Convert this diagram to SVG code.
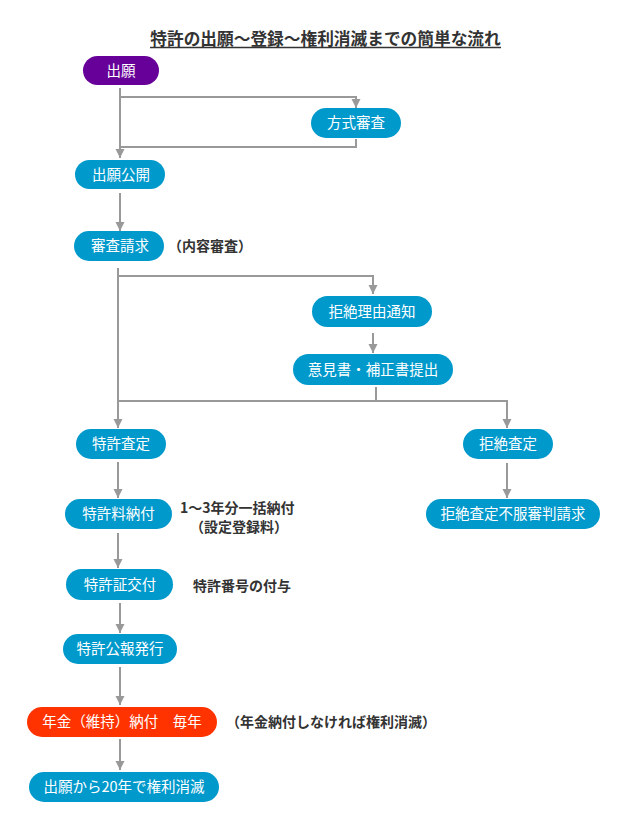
<svg xmlns="http://www.w3.org/2000/svg" width="640" height="830" viewBox="0 0 640 830">
<defs>
<marker id="ah" viewBox="0 0 10 10" refX="10" refY="5" markerWidth="9" markerHeight="10" markerUnits="userSpaceOnUse" orient="auto">
<path d="M0,0 L10,5 L0,10 Z" fill="#999"/>
</marker>
<style>
.n{fill:#0099CC}
.t{font-family:"Noto Sans CJK JP","Noto Sans",sans-serif;font-size:14.5px;fill:#fff;text-anchor:middle}
.l{font-family:"Noto Sans CJK JP","Noto Sans",sans-serif;font-size:14px;font-weight:bold;fill:#333}
.c{fill:none;stroke:#999;stroke-width:2}
.a{marker-end:url(#ah)}
</style>
</defs>
<rect width="640" height="830" fill="#fff"/>
<g id="title">
<text x="325.5" y="45" font-family="'Noto Sans CJK JP','Noto Sans',sans-serif" font-size="16.7" font-weight="bold" fill="#333" text-anchor="middle">特許の出願～登録～権利消滅までの簡単な流れ</text>
<line x1="150" y1="47.5" x2="501" y2="47.5" stroke="#333" stroke-width="1.3"/>
</g>
<g id="connectors">
<path class="c a" d="M120,88 V158"/>
<path class="c a" d="M120,97 H356 V108"/>
<path class="c" d="M356,139 V147 H120"/>
<path class="c a" d="M120,193 V231"/>
<path class="c a" d="M118,268 V428"/>
<path class="c a" d="M118,276 H373 V294"/>
<path class="c a" d="M373,333 V353"/>
<path class="c" d="M376,387 V401"/>
<path class="c a" d="M118,401 H507 V428"/>
<path class="c a" d="M118,462 V498"/>
<path class="c a" d="M507,463 V498"/>
<path class="c a" d="M118,533 V568"/>
<path class="c a" d="M120,603 V633"/>
<path class="c a" d="M120,667 V705"/>
<path class="c a" d="M120,739 V770"/>
</g>
<g id="n1"><rect x="83" y="56" width="76" height="29" rx="14.5" fill="#660099"/><text class="t" x="121" y="75.5">出願</text></g>
<g id="n2"><rect class="n" x="311" y="108" width="90" height="30" rx="15"/><text class="t" x="356" y="128">方式審査</text></g>
<g id="n3"><rect class="n" x="75" y="160" width="90" height="29" rx="14.5"/><text class="t" x="121" y="179.5">出願公開</text></g>
<g id="n4"><rect class="n" x="74" y="231" width="90" height="30" rx="15"/><text class="t" x="120" y="251">審査請求</text><text class="l" x="168" y="251">（内容審査）</text></g>
<g id="n5"><rect class="n" x="312" y="296" width="120" height="31" rx="15.5"/><text class="t" x="372" y="316.5">拒絶理由通知</text></g>
<g id="n6"><rect class="n" x="293" y="354" width="160" height="31" rx="15.5"/><text class="t" x="373" y="374.5">意見書・補正書提出</text></g>
<g id="n7"><rect class="n" x="76" y="429" width="90" height="30" rx="15"/><text class="t" x="121" y="449">特許査定</text></g>
<g id="n8"><rect class="n" x="463" y="429" width="90" height="30" rx="15"/><text class="t" x="508" y="449">拒絶査定</text></g>
<g id="n9"><rect class="n" x="65" y="499" width="107" height="30" rx="15"/><text class="t" x="118.5" y="519">特許料納付</text><text class="l" x="180" y="513" font-size="13.5">1～3年分一括納付</text><text class="l" x="190" y="532" font-size="13.5">（設定登録料）</text></g>
<g id="n10"><rect class="n" x="426" y="499" width="174" height="30" rx="15"/><text class="t" x="513" y="519">拒絶査定不服審判請求</text></g>
<g id="n11"><rect class="n" x="66" y="569" width="107" height="31" rx="15.5"/><text class="t" x="120" y="589.5">特許証交付</text><text class="l" x="193" y="591">特許番号の付与</text></g>
<g id="n12"><rect class="n" x="63" y="634" width="114" height="30" rx="15"/><text class="t" x="120" y="654">特許公報発行</text></g>
<g id="n13"><rect x="27" y="707" width="190" height="30" rx="15" fill="#FF3300"/><text class="t" x="122" y="727">年金（維持）納付　毎年</text><text class="l" x="226" y="727">（年金納付しなければ権利消滅）</text></g>
<g id="n14"><rect class="n" x="29" y="772" width="190" height="30" rx="15"/><text class="t" x="124" y="792">出願から20年で権利消滅</text></g>
</svg>
